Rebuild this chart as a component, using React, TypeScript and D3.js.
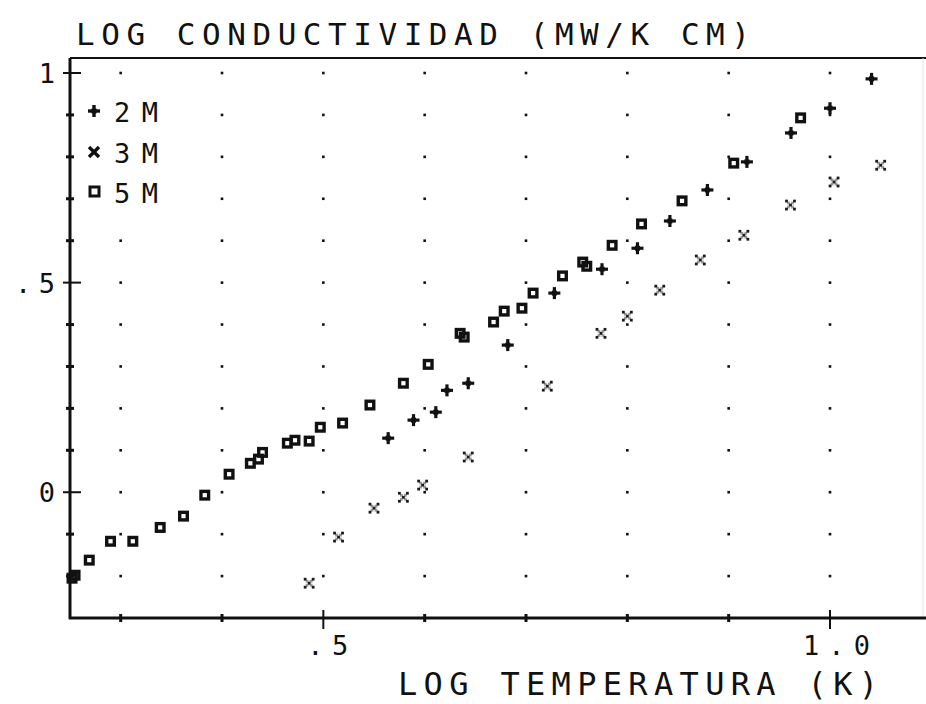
import React from "react";
import * as d3 from "d3";

// ---- data ----
const series2M: [number, number][] = [
  [0.564, 0.129], [0.589, 0.172], [0.611, 0.191], [0.622, 0.243], [0.643, 0.26],
  [0.682, 0.351], [0.728, 0.475], [0.775, 0.532], [0.81, 0.582], [0.842, 0.647],
  [0.879, 0.721], [0.918, 0.788], [0.9615, 0.857], [1.0, 0.916], [1.041, 0.986],
];
const series3M: [number, number][] = [
  [0.486, -0.217], [0.515, -0.107], [0.55, -0.038], [0.579, -0.012], [0.598, 0.017],
  [0.643, 0.084], [0.721, 0.253], [0.774, 0.379], [0.8, 0.42], [0.832, 0.482],
  [0.872, 0.554], [0.915, 0.613], [0.961, 0.685], [1.004, 0.74], [1.05, 0.78],
];
const series5M: [number, number][] = [
  [0.252, -0.205], [0.255, -0.198], [0.269, -0.162], [0.29, -0.117], [0.312, -0.117],
  [0.339, -0.084], [0.362, -0.057], [0.383, -0.007], [0.407, 0.043], [0.428, 0.069],
  [0.436, 0.079], [0.44, 0.095], [0.4645, 0.117], [0.472, 0.124], [0.486, 0.122],
  [0.497, 0.155], [0.519, 0.165], [0.546, 0.208], [0.579, 0.26], [0.6035, 0.305],
  [0.635, 0.379], [0.639, 0.37], [0.668, 0.406], [0.6785, 0.432], [0.696, 0.439],
  [0.707, 0.475], [0.736, 0.516], [0.756, 0.549], [0.76, 0.539], [0.785, 0.589],
  [0.814, 0.64], [0.854, 0.695], [0.905, 0.785], [0.971, 0.893],
];
const legendLabels = ["2M", "3M", "5M"];
const xTickValues = [0.5, 1.0];
const xTickLabels = [".5", "1.0"];
const yTickValues = [1, 0.5, 0];
const yTickLabels = ["1", ".5", "0"];
const xGridValues = [0.3, 0.4, 0.5, 0.6, 0.7, 0.8, 0.9, 1.0];
const yGridValues = [-0.2, -0.1, 0, 0.1, 0.2, 0.3, 0.4, 0.5, 0.6, 0.7, 0.8, 0.9, 1.0];
const yMinorValues = [-0.2, -0.1, 0.1, 0.2, 0.3, 0.4, 0.6, 0.7, 0.8, 0.9];
const xMinorValues = [0.3, 0.4, 0.6, 0.7, 0.8, 0.9];
const titleText = "LOG CONDUCTIVIDAD (MW/K CM)";
const xLabelText = "LOG TEMPERATURA (K)";

const W = 926;
const H = 704;
const INK = "#111";
const FONT = "'DejaVu Sans Mono', 'Liberation Mono', monospace";

const x = d3.scaleLinear().domain([0.25, 1.0]).range([70, 830]);
const y = d3.scaleLinear().domain([-0.3, 1.0]).range([618, 73]);

const Plus = ({ cx, cy, s = 6, w = 3.2 }: any) => (
  <g>
    <line x1={cx - s} x2={cx + s} y1={cy} y2={cy} stroke={INK} strokeWidth={w} />
    <line x1={cx} x2={cx} y1={cy - s} y2={cy + s} stroke={INK} strokeWidth={w} />
    <rect x={cx - 2.5} y={cy - 2.5} width={5} height={5} fill={INK} />
  </g>
);

const Square = ({ cx, cy }: any) => (
  <rect x={cx - 3.8} y={cy - 3.8} width={7.6} height={7.6} fill="none" stroke={INK} strokeWidth={3.4} />
);

const DotX = ({ cx, cy }: any) => {
  const pts = [[-4, -4], [4, -4], [0, 0], [-4, 4], [4, 4], [-2, -2], [2, 2], [2, -2], [-2, 2]];
  return (
    <g>
      {pts.map((p, i) => (
        <rect key={i} x={cx + p[0] - 1.4} y={cy + p[1] - 1.4} width={2.8} height={2.8} fill="#1a1a1a" opacity={i > 4 ? 0.45 : 1} />
      ))}
    </g>
  );
};

const BoldX = ({ cx, cy }: any) => (
  <g>
    <line x1={cx - 5} y1={cy - 5} x2={cx + 5} y2={cy + 5} stroke={INK} strokeWidth={3.4} />
    <line x1={cx - 5} y1={cy + 5} x2={cx + 5} y2={cy - 5} stroke={INK} strokeWidth={3.4} />
  </g>
);

export default function App() {
  const gridDots: [number, number][] = [];
  xGridValues.forEach((gx) => yGridValues.forEach((gy) => gridDots.push([gx, gy])));
  return (
    <svg width={W} height={H} style={{ position: "absolute", left: 0, top: 0, background: "#fff" }}>
      <rect width={W} height={H} fill="#fff" />
      {/* grid dots */}
      {gridDots.map(([gx, gy], i) => (
        <rect key={i} x={x(gx) - 1.3} y={y(gy) - 1.3} width={2.6} height={2.6} fill={INK} />
      ))}
      {/* frame */}
      <line x1={70} x2={W} y1={58} y2={58} stroke={INK} strokeWidth={2.2} />
      <line x1={923} x2={923} y1={58} y2={618} stroke="#e4e4e4" strokeWidth={1} />
      <line x1={70} x2={70} y1={58} y2={619} stroke={INK} strokeWidth={3} />
      <line x1={69} x2={W} y1={618} y2={618} stroke={INK} strokeWidth={3} />
      {/* minor ticks */}
      {yMinorValues.map((v, i) => (
        <rect key={"ym" + i} x={66} y={y(v) - 1.5} width={8} height={3} fill={INK} />
      ))}
      {xMinorValues.map((v, i) => (
        <rect key={"xm" + i} x={x(v) - 1.5} y={614} width={3} height={8} fill={INK} />
      ))}
      {/* major ticks + labels */}
      {yTickValues.map((v, i) => (
        <g key={"yt" + i}>
          <line x1={63} x2={81} y1={y(v)} y2={y(v)} stroke={INK} strokeWidth={2} />
          <text
            x={55}
            y={y(v) + 10}
            textAnchor="end"
            fontFamily={FONT}
            fontSize={27}
            fill={INK}
            textLength={yTickLabels[i].length > 1 ? 40 : undefined}
            lengthAdjust="spacing"
          >
            {yTickLabels[i]}
          </text>
        </g>
      ))}
      {xTickValues.map((v, i) => (
        <g key={"xt" + i}>
          <line x1={x(v)} x2={x(v)} y1={610} y2={629} stroke={INK} strokeWidth={2} />
          <text
            x={x(v) - (xTickLabels[i].length > 2 ? 27 : 16)}
            y={655}
            fontFamily={FONT}
            fontSize={27}
            fill={INK}
            textLength={xTickLabels[i].length > 2 ? 67 : 41}
            lengthAdjust="spacing"
          >
            {xTickLabels[i]}
          </text>
        </g>
      ))}
      {/* data */}
      {series5M.map(([a, b], i) => (
        <Square key={"s" + i} cx={x(a)} cy={y(b)} />
      ))}
      {series3M.map(([a, b], i) => (
        <DotX key={"x" + i} cx={x(a)} cy={y(b)} />
      ))}
      {series2M.map(([a, b], i) => (
        <Plus key={"p" + i} cx={x(a)} cy={y(b)} />
      ))}
      {/* legend */}
      <rect x={82} y={92} width={90} height={118} fill="#fff" />
      <Plus cx={94} cy={111} s={6} w={3.4} />
      <BoldX cx={94} cy={152} />
      <rect x={90} y={187} width={9} height={9} fill="none" stroke={INK} strokeWidth={3} />
      {legendLabels.map((t, i) => (
        <text key={"lg" + i} x={114} y={122 + i * 40.5} fontFamily={FONT} fontSize={27} fill={INK} textLength={44} lengthAdjust="spacing">
          {t}
        </text>
      ))}
      {/* titles */}
      <text x={76} y={45} fontFamily={FONT} fontSize={31} fill={INK} textLength={674} lengthAdjust="spacing">
        {titleText}
      </text>
      <text x={398} y={695} fontFamily={FONT} fontSize={32} fill={INK} textLength={480} lengthAdjust="spacing">
        {xLabelText}
      </text>
    </svg>
  );
}
